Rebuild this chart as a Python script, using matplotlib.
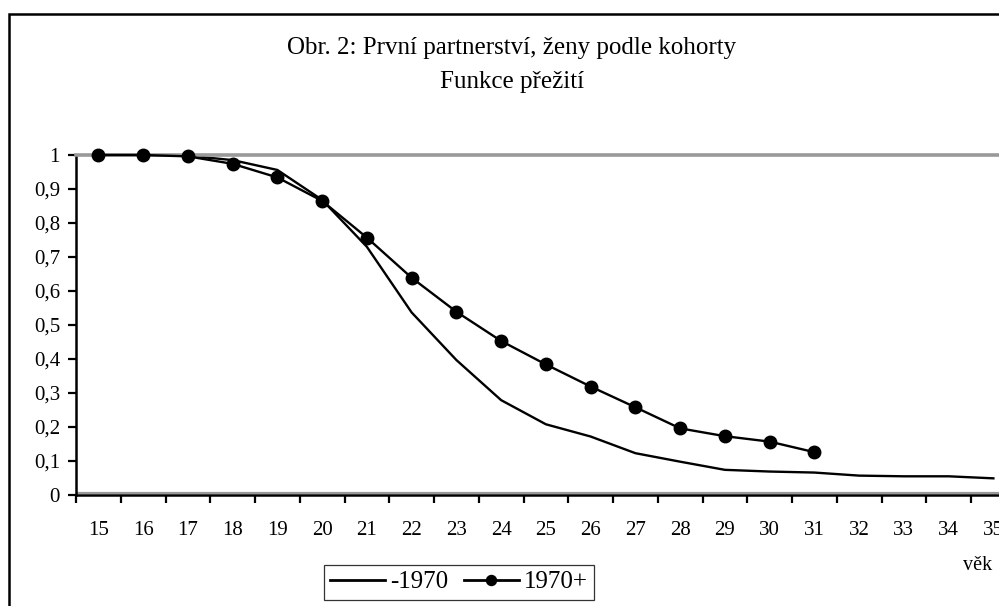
import matplotlib
matplotlib.use("Agg")
import matplotlib.pyplot as plt
from matplotlib.patches import Rectangle
from matplotlib.ticker import FixedLocator, FuncFormatter

# vek (age) categories
vek = list(range(15, 36))

# Funkce preziti - kohorta -1970 (15..35)
kohorta_do_1970 = [1.0, 1.0, 0.998, 0.985, 0.956, 0.868, 0.730, 0.537, 0.397,
                   0.279, 0.208, 0.172, 0.123, 0.098, 0.074, 0.069, 0.066,
                   0.057, 0.055, 0.055, 0.049]

# Funkce preziti - kohorta 1970+ (15..31)
kohorta_od_1970 = [1.0, 1.0, 0.996, 0.974, 0.934, 0.865, 0.757, 0.639, 0.539,
                   0.453, 0.384, 0.319, 0.258, 0.196, 0.173, 0.157, 0.126]

titulek = "Obr. 2: První partnerství, ženy podle kohorty"
podtitulek = "Funkce přežití"

plt.rcParams["font.family"] = ["Liberation Serif", "DejaVu Serif"]

fig = plt.figure(figsize=(9.99, 6.06), dpi=100)
ax = fig.add_axes([76 / 999, 111 / 606, 21 * 44.75 / 999, 340 / 606])

x1 = list(range(len(kohorta_do_1970)))
x2 = list(range(len(kohorta_od_1970)))
ax.plot(x1, kohorta_do_1970, color="black", lw=1.7, label="-1970", clip_on=False)
ax.plot(x2, kohorta_od_1970, color="black", lw=1.7, marker="o", markersize=9,
        label="1970+", clip_on=False, zorder=4)

ax.set_xlim(-0.5, len(vek) - 0.5)
ax.set_ylim(0, 1)

# x: tick marks between categories, labels at the centres
ax.xaxis.set_major_locator(FixedLocator([i - 0.5 for i in range(len(vek) + 1)]))
ax.xaxis.set_minor_locator(FixedLocator(list(range(len(vek)))))
ax.xaxis.set_major_formatter(FuncFormatter(lambda v, p: ""))
ax.set_xticklabels([str(v) for v in vek], minor=True)
ax.tick_params(axis="x", which="major", direction="out", length=5.5, width=1.6)
ax.tick_params(axis="x", which="minor", length=0, pad=19, labelsize=15)

ax.set_yticks([i / 10 for i in range(11)])
ax.yaxis.set_major_formatter(
    FuncFormatter(lambda v, p: ("%g" % round(v, 1)).replace(".", ",")))
ax.tick_params(axis="y", direction="out", length=5.5, width=1.6, pad=6, labelsize=15)

for s in ["left", "bottom"]:
    ax.spines[s].set_color("black")
    ax.spines[s].set_linewidth(1.8)
ax.spines["right"].set_visible(False)
ax.spines["top"].set_color("#999999")
ax.spines["top"].set_linewidth(2.6)
# sedy okraj plochy grafu nad osou x
ax.plot([0, 1], [0.007, 0.007], transform=ax.transAxes, color="#999999", lw=1.6,
        zorder=1)

fig.text(0.5125, 1 - 48 / 606, titulek, ha="center", va="center", fontsize=18)
fig.text(0.5125, 1 - 82 / 606, podtitulek, ha="center", va="center", fontsize=18)
fig.text(0.993, 1 - 565 / 606, "věk", ha="right", va="center", fontsize=14.5)

# ramecek celeho obrazku (oriznuty vpravo a dole)
fig.patches.append(Rectangle((9 / 999, -0.2), 1.2, 0.2 + (606 - 14) / 606,
                             transform=fig.transFigure, fill=False,
                             edgecolor="black", lw=1.8, clip_on=False))

leg = fig.legend(loc="center", bbox_to_anchor=(459 / 999, 1 - 582 / 606),
                 ncol=2, fontsize=18, frameon=True, fancybox=False,
                 edgecolor="black", handlelength=2.2, handletextpad=0.2,
                 columnspacing=0.6, borderpad=0.25, markerscale=0.8)
leg.get_frame().set_linewidth(0.9)
for h in leg.get_lines():
    h.set_linewidth(2.0)

fig.savefig("out.png", dpi=100)
